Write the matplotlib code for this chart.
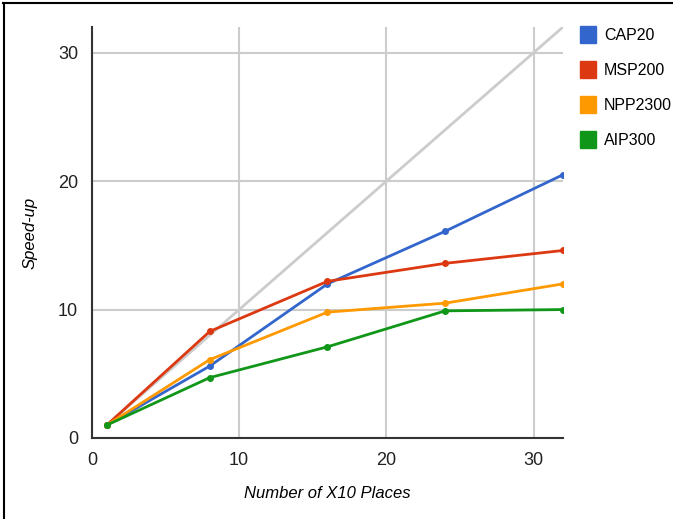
import matplotlib.pyplot as plt
from matplotlib.lines import Line2D
from matplotlib.patches import Patch

# data
places = [1, 8, 16, 24, 32]
cap20 = [1, 5.6, 12.0, 16.1, 20.5]
msp200 = [1, 8.3, 12.2, 13.6, 14.6]
npp2300 = [1, 6.1, 9.8, 10.5, 12.0]
aip300 = [1, 4.7, 7.1, 9.9, 10.0]
ideal_x = [1, 32]
ideal_y = [1, 32]

names = ["CAP20", "MSP200", "NPP2300", "AIP300"]
colors = ["#3366cc", "#dc3912", "#ff9900", "#109618"]
series = [cap20, msp200, npp2300, aip300]

plt.rcParams['font.family'] = ['Liberation Sans', 'DejaVu Sans']

fig = plt.figure(figsize=(6.73, 5.19), dpi=100)
ax = fig.add_axes([92 / 673, 1 - 438 / 519, (563 - 92) / 673, (438 - 27) / 519])

ax.plot(ideal_x, ideal_y, color="#cccccc", lw=2, zorder=2)
for name, ys, c in zip(names, series, colors):
    ax.plot(places, ys, color=c, lw=2, marker='o', ms=4, label=name, zorder=3)

ax.set_xlim(0, 32)
ax.set_ylim(0, 32)
ax.set_xticks([0, 10, 20, 30])
ax.set_yticks([0, 10, 20, 30])
ax.grid(True, color="#cccccc", lw=1.5, zorder=0)
ax.set_axisbelow(True)
for s in ['top', 'right']:
    ax.spines[s].set_visible(False)
for s in ['left', 'bottom']:
    ax.spines[s].set_color("#333333")
    ax.spines[s].set_linewidth(1.5)
ax.tick_params(length=0, labelsize=13, colors="#222222", pad=10)

ax.set_xlabel("Number of X10 Places", style='italic', fontsize=12, labelpad=12)
ax.set_ylabel("Speed-up", style='italic', fontsize=12, labelpad=15)

handles = [Patch(facecolor=c, edgecolor=c) for c in colors]
fig.legend(handles, names, loc='upper left', bbox_to_anchor=(580 / 673, 1 - 26 / 519),
           frameon=False, fontsize=11.5, handlelength=1.0, handleheight=1.3,
           handletextpad=0.5, labelspacing=1.1, borderaxespad=0, borderpad=0)

# frame around the picture (top and left edges only)
fig.add_artist(Line2D([3 / 673, 1], [1 - 2.5 / 519, 1 - 2.5 / 519], color='black', lw=1.5,
                      transform=fig.transFigure))
fig.add_artist(Line2D([4 / 673, 4 / 673], [0, 1 - 2.5 / 519], color='black', lw=1.5,
                      transform=fig.transFigure))

fig.savefig("out.png", dpi=100)
